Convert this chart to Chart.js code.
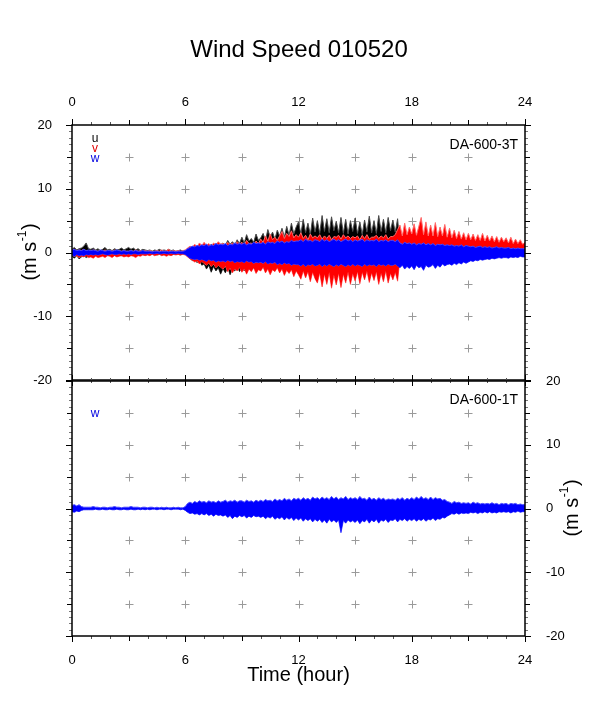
<!DOCTYPE html>
<html><head><meta charset="utf-8">
<script src="https://cdn.jsdelivr.net/npm/chart.js@4.4.1/dist/chart.umd.min.js"></script>
<style>
html,body{margin:0;padding:0;background:#fff;}
#wrap{position:relative;width:598px;height:708px;background:#fff;}
canvas{position:absolute;left:0;top:0;}
</style></head><body>
<div id="wrap"><canvas id="c1" width="598" height="708"></canvas><canvas id="c2" width="598" height="708"></canvas></div>
<script>
// ---------- data: upper / lower envelope of each record, read every 0.125 h (one line per hour) ----------
const TITLE = 'Wind Speed 010520';
const HOUR_STEP = 0.125;
const xTickLabels = [0, 6, 12, 18, 24];
const yTickLabels = [-20, -10, 0, 10, 20];

// DA-600-3T  u (black)
const uHi = [
 0.5,0.8,0.4,0.6,0.7,1.0,1.5,0.6,  0.5,0.7,0.4,0.6,0.3,0.5,0.8,0.4,
 0.5,0.3,0.6,0.4,0.5,0.7,0.4,0.6,  0.8,0.5,0.7,0.4,0.6,0.3,0.5,0.4,
 0.3,0.4,0.2,0.4,0.3,0.5,0.3,0.4,  0.3,0.5,0.3,0.4,0.2,0.3,0.4,0.2,
 0.3,0.6,0.5,0.9,0.6,1.0,0.7,1.1,  0.8,1.2,0.9,1.3,1.0,1.4,1.1,1.2,
 1.5,1.1,1.9,1.3,1.7,1.2,2.0,1.4,  2.4,1.5,2.8,1.8,2.2,1.6,2.9,1.9,
 2.3,3.0,1.9,3.6,2.4,3.2,2.1,3.5,  2.6,3.8,2.4,4.1,2.7,4.6,2.9,4.0,
 4.8,2.9,5.2,3.1,4.6,2.8,5.4,3.2,  5.0,3.0,5.8,3.3,5.3,3.1,5.6,3.4,
 4.9,3.1,5.5,3.0,5.2,2.9,5.0,3.3,  5.4,3.0,4.8,2.8,5.1,3.2,5.7,3.1,
 5.0,3.0,5.8,3.3,5.2,3.1,5.5,3.4,  5.1,3.2,5.3,1.2,1.0,0.8,1.1,0.9,
 1.0,0.8,1.1,0.9,1.0,0.7,0.9,1.1,  0.8,1.0,0.9,0.7,1.0,0.8,0.9,0.7,
 0.9,0.7,0.8,1.0,0.7,0.8,0.9,0.7,  0.8,0.6,0.9,0.7,0.8,0.6,0.7,0.8,
 0.6,0.8,0.7,0.6,0.8,0.7,0.6,0.7,  0.7,0.6,0.7,0.5,0.6,0.7,0.5,0.6,
 0.6];
const uLo = [
 -0.6,-0.9,-0.5,-1.0,-0.7,-0.5,-0.8,-0.6,  -0.5,-0.7,-0.4,-0.6,-0.5,-0.4,-0.6,-0.5,
 -0.4,-0.6,-0.3,-0.5,-0.4,-0.5,-0.3,-0.4,  -0.5,-0.3,-0.4,-0.5,-0.3,-0.4,-0.3,-0.4,
 -0.3,-0.4,-0.2,-0.3,-0.4,-0.3,-0.2,-0.3,  -0.3,-0.2,-0.4,-0.3,-0.2,-0.3,-0.4,-0.2,
 -0.3,-0.6,-0.9,-1.3,-1.0,-1.6,-1.2,-2.0,  -1.8,-2.6,-2.0,-3.1,-2.2,-2.9,-2.4,-3.4,
 -2.5,-3.2,-2.3,-3.5,-2.6,-2.9,-2.2,-3.0,  -2.4,-2.9,-2.0,-2.7,-2.2,-2.5,-1.9,-2.3,
 -1.8,-2.2,-1.6,-2.0,-1.5,-1.9,-1.4,-1.7,  -1.5,-1.3,-1.6,-1.4,-1.5,-1.3,-1.6,-1.4,
 -1.3,-1.5,-1.2,-1.4,-1.3,-1.5,-1.2,-1.4,  -1.4,-1.2,-1.5,-1.3,-1.4,-1.2,-1.5,-1.3,
 -1.3,-1.5,-1.2,-1.4,-1.3,-1.5,-1.2,-1.4,  -1.4,-1.2,-1.5,-1.3,-1.4,-1.2,-1.5,-1.3,
 -1.3,-1.5,-1.2,-1.4,-1.3,-1.5,-1.2,-1.4,  -1.3,-1.5,-1.2,-0.9,-0.8,-1.0,-0.9,-0.8,
 -0.9,-0.7,-1.0,-0.8,-0.9,-0.7,-0.8,-1.0,  -0.8,-0.9,-0.7,-0.8,-1.0,-0.7,-0.8,-0.9,
 -0.7,-0.8,-0.9,-0.7,-0.8,-0.6,-0.7,-0.8,  -0.6,-0.7,-0.8,-0.6,-0.7,-0.6,-0.8,-0.6,
 -0.7,-0.5,-0.6,-0.7,-0.5,-0.6,-0.7,-0.5,  -0.6,-0.5,-0.6,-0.5,-0.6,-0.4,-0.5,-0.6,
 -0.5];

// DA-600-3T  v (red)
const vHi = [
 0.3,0.5,0.2,0.4,0.3,0.5,0.2,0.3,  0.2,0.4,0.3,0.2,0.3,0.2,0.4,0.2,
 0.3,0.2,0.4,0.2,0.3,0.2,0.3,0.2,  0.2,0.3,0.2,0.4,0.2,0.3,0.2,0.3,
 0.2,0.3,0.2,0.2,0.3,0.2,0.4,0.2,  0.3,0.5,0.2,0.3,0.2,0.3,0.2,0.3,
 0.4,0.7,1.0,0.8,1.3,0.9,1.5,1.1,  1.6,1.1,1.4,1.0,1.5,1.2,1.7,1.3,
 1.4,1.1,1.6,1.2,1.5,1.0,1.7,1.3,  1.6,1.2,1.9,1.4,1.5,1.1,1.8,1.4,
 2.1,1.6,2.6,1.8,2.9,2.0,2.4,1.9,  2.6,3.3,2.2,3.0,2.5,3.4,2.3,2.8,
 2.4,3.1,2.2,2.7,2.0,2.9,2.3,2.6,  2.3,2.8,2.1,2.6,2.2,2.7,2.0,2.5,
 2.4,2.7,2.1,2.8,2.3,2.6,2.2,2.5,  2.3,2.6,2.0,2.7,2.2,2.8,2.1,2.4,
 2.4,2.7,2.2,2.6,2.3,2.8,2.1,2.5,  2.5,2.8,3.6,4.3,2.6,4.6,2.8,4.0,
 2.9,4.5,2.7,4.1,5.5,2.8,4.8,2.6,  4.3,2.6,4.7,2.5,4.0,2.6,4.4,2.4,
 3.8,2.3,3.5,2.2,3.3,2.1,3.1,2.0,  3.0,2.0,2.9,1.9,2.8,1.9,3.0,1.8,
 2.7,1.8,2.6,1.7,2.5,1.6,2.4,1.7,  2.3,1.5,2.4,1.4,2.1,1.4,2.0,1.3,
 1.6];
const vLo = [
 -0.4,-0.6,-0.5,-0.8,-0.6,-0.7,-0.5,-0.8,  -0.7,-0.9,-0.6,-0.8,-0.7,-0.6,-0.8,-0.5,
 -0.6,-0.8,-0.5,-0.7,-0.6,-0.5,-0.7,-0.6,  -0.7,-0.5,-0.6,-0.8,-0.5,-0.6,-0.4,-0.5,
 -0.4,-0.5,-0.3,-0.5,-0.4,-0.3,-0.5,-0.4,  -0.6,-0.4,-0.5,-0.3,-0.4,-0.3,-0.4,-0.3,
 -0.4,-0.7,-1.0,-1.2,-1.5,-1.3,-1.8,-1.4,  -1.7,-2.0,-1.6,-2.2,-1.8,-2.4,-2.0,-2.3,
 -2.6,-2.1,-3.0,-2.4,-3.2,-2.5,-2.9,-2.3,  -3.1,-2.5,-3.4,-2.6,-3.0,-2.4,-3.3,-2.7,
 -2.9,-2.3,-3.2,-2.6,-3.5,-2.7,-3.0,-2.4,  -3.2,-2.6,-3.6,-2.8,-3.3,-2.7,-3.8,-2.9,
 -3.5,-4.2,-2.9,-4.0,-3.0,-4.6,-3.1,-4.1,  -4.8,-3.2,-5.4,-3.4,-5.0,-3.1,-5.6,-3.5,
 -5.1,-3.3,-5.5,-3.4,-4.8,-3.0,-5.0,-3.3,  -4.5,-3.0,-4.9,-3.1,-4.3,-2.9,-4.7,-3.2,
 -4.4,-3.0,-5.0,-3.2,-4.6,-2.9,-4.8,-3.3,  -4.3,-3.1,-4.5,-0.9,-0.7,-0.6,-0.8,-0.6,
 -0.5,-0.6,-0.4,-0.6,-0.5,-0.4,-0.6,-0.5,  -0.4,-0.5,-0.4,-0.3,-0.5,-0.4,-0.3,-0.4,
 -0.4,-0.3,-0.4,-0.3,-0.3,-0.4,-0.3,-0.3,  -0.3,-0.2,-0.3,-0.3,-0.2,-0.3,-0.2,-0.3,
 -0.2,-0.3,-0.2,-0.2,-0.3,-0.2,-0.2,-0.3,  -0.2,-0.2,-0.3,-0.2,-0.2,-0.2,-0.3,-0.2,
 -0.2];

// DA-600-3T  w (blue)
const wHi = [
 0.4,0.5,0.3,0.4,0.3,0.5,0.3,0.4,  0.3,0.4,0.3,0.2,0.4,0.3,0.2,0.3,
 0.3,0.2,0.3,0.4,0.3,0.2,0.3,0.2,  0.2,0.3,0.2,0.3,0.2,0.2,0.3,0.2,
 0.2,0.2,0.1,0.2,0.2,0.1,0.2,0.2,  0.2,0.1,0.2,0.2,0.1,0.2,0.2,0.2,
 0.3,0.6,0.8,1.0,0.9,1.1,1.0,1.2,  1.1,1.3,1.0,1.2,1.1,1.4,1.2,1.3,
 1.2,1.4,1.1,1.3,1.2,1.5,1.3,1.4,  1.3,1.5,1.2,1.4,1.3,1.6,1.4,1.5,
 1.4,1.6,1.3,1.7,1.5,1.6,1.4,1.8,  1.6,1.8,1.5,1.7,1.6,1.9,1.7,1.8,
 1.8,2.0,1.7,2.1,1.8,1.9,1.7,2.0,  1.9,1.7,2.1,1.8,2.0,1.7,1.9,2.1,
 1.8,2.0,1.7,1.9,2.1,1.8,2.0,1.7,  2.0,1.8,1.9,2.1,1.7,2.0,1.8,1.9,
 1.8,2.1,1.7,1.9,1.8,2.0,1.7,1.9,  1.9,1.7,2.0,1.5,1.3,1.6,1.4,1.5,
 1.3,1.5,1.2,1.4,1.3,1.5,1.2,1.4,  1.2,1.4,1.1,1.3,1.2,1.3,1.1,1.2,
 1.1,1.2,1.0,1.1,1.0,1.2,0.9,1.1,  1.0,0.9,1.0,0.8,0.9,1.0,0.8,0.9,
 0.8,0.9,0.7,0.8,0.9,0.7,0.8,0.7,  0.7,0.8,0.6,0.7,0.6,0.7,0.6,0.6,
 0.6];
const wLo = [
 -0.4,-0.6,-0.3,-0.5,-0.4,-0.5,-0.3,-0.4,  -0.3,-0.4,-0.3,-0.4,-0.3,-0.2,-0.3,-0.4,
 -0.3,-0.2,-0.3,-0.3,-0.2,-0.3,-0.2,-0.3,  -0.2,-0.3,-0.2,-0.2,-0.3,-0.2,-0.2,-0.2,
 -0.2,-0.1,-0.2,-0.2,-0.1,-0.2,-0.2,-0.1,  -0.2,-0.2,-0.1,-0.2,-0.2,-0.1,-0.2,-0.2,
 -0.3,-0.6,-0.9,-1.0,-1.1,-1.0,-1.2,-1.1,  -1.2,-1.4,-1.1,-1.3,-1.2,-1.5,-1.3,-1.4,
 -1.3,-1.5,-1.2,-1.4,-1.3,-1.6,-1.4,-1.5,  -1.4,-1.6,-1.3,-1.5,-1.4,-1.7,-1.5,-1.6,
 -1.5,-1.7,-1.4,-1.8,-1.6,-1.7,-1.5,-1.9,  -1.7,-1.9,-1.6,-1.8,-1.7,-2.0,-1.8,-1.9,
 -1.9,-2.1,-1.8,-2.2,-1.9,-2.0,-1.8,-2.1,  -2.0,-1.8,-2.2,-1.9,-2.1,-1.8,-2.0,-2.2,
 -1.9,-2.1,-1.8,-2.0,-2.2,-1.9,-2.1,-1.8,  -2.1,-1.9,-2.0,-2.2,-1.8,-2.1,-1.9,-2.0,
 -1.9,-2.2,-1.8,-2.0,-1.9,-2.1,-1.8,-2.0,  -2.0,-1.8,-2.1,-2.4,-2.0,-2.6,-2.2,-2.5,
 -2.1,-2.7,-2.0,-2.4,-2.2,-2.8,-2.0,-2.3,  -2.2,-1.9,-2.5,-2.0,-2.3,-1.8,-2.1,-1.9,
 -1.8,-2.0,-1.7,-1.9,-1.6,-1.8,-1.5,-1.7,  -1.5,-1.3,-1.4,-1.2,-1.3,-1.1,-1.2,-1.1,
 -1.0,-1.1,-0.9,-1.0,-0.9,-0.8,-0.9,-0.8,  -0.8,-0.9,-0.7,-0.8,-0.7,-0.8,-0.6,-0.7,
 -0.7];

// DA-600-1T  w (blue)
const w1Hi = [
 0.5,0.6,0.4,0.6,0.3,0.2,0.2,0.2,  0.2,0.3,0.2,0.2,0.1,0.2,0.2,0.1,
 0.2,0.2,0.3,0.2,0.2,0.1,0.2,0.2,  0.2,0.3,0.2,0.2,0.2,0.1,0.2,0.2,
 0.1,0.2,0.2,0.1,0.2,0.1,0.2,0.1,  0.2,0.1,0.1,0.2,0.1,0.2,0.1,0.1,
 0.3,0.8,1.0,0.8,1.1,0.9,1.2,1.0,  1.1,0.9,1.2,1.0,1.1,0.9,1.2,1.0,
 1.1,1.3,1.0,1.2,1.1,1.3,1.0,1.2,  1.2,1.0,1.3,1.1,1.2,1.0,1.3,1.1,
 1.3,1.1,1.4,1.2,1.3,1.1,1.5,1.2,  1.4,1.2,1.6,1.3,1.5,1.2,1.6,1.4,
 1.6,1.3,1.7,1.4,1.6,1.3,1.8,1.5,  1.7,1.4,1.8,1.5,1.7,1.4,1.9,1.5,
 1.8,1.4,1.7,1.5,1.9,1.4,1.7,1.5,  1.7,1.4,1.9,1.5,1.6,1.3,1.8,1.4,
 1.6,1.3,1.7,1.4,1.6,1.3,1.5,1.4,  1.5,1.3,1.6,1.4,1.7,1.3,1.6,1.4,
 1.7,1.4,1.8,1.5,1.9,1.5,1.7,1.4,  1.8,1.4,1.7,1.5,1.6,1.3,1.4,1.1,
 1.0,0.8,1.1,0.9,1.0,0.8,0.9,0.8,  0.9,0.7,1.0,0.8,0.9,0.7,0.8,0.7,
 0.8,0.7,0.9,0.7,0.8,0.6,0.8,0.7,  0.8,0.6,0.8,0.7,0.8,0.6,0.7,0.6,
 0.6];
const w1Lo = [
 -0.5,-0.6,-0.4,-0.5,-0.3,-0.2,-0.2,-0.2,  -0.2,-0.2,-0.1,-0.2,-0.2,-0.1,-0.2,-0.2,
 -0.1,-0.2,-0.2,-0.1,-0.2,-0.2,-0.1,-0.2,  -0.2,-0.1,-0.2,-0.2,-0.1,-0.2,-0.1,-0.2,
 -0.1,-0.2,-0.1,-0.1,-0.2,-0.1,-0.1,-0.2,  -0.1,-0.1,-0.2,-0.1,-0.1,-0.1,-0.2,-0.1,
 -0.3,-0.6,-0.8,-0.7,-0.9,-0.8,-1.0,-0.8,  -1.0,-0.8,-1.1,-0.9,-1.2,-0.9,-1.1,-1.0,
 -1.2,-1.0,-1.4,-1.1,-1.6,-1.2,-1.4,-1.1,  -1.3,-1.1,-1.5,-1.2,-1.4,-1.1,-1.3,-1.2,
 -1.4,-1.2,-1.6,-1.3,-1.5,-1.2,-1.7,-1.4,  -1.6,-1.3,-1.8,-1.4,-1.7,-1.4,-1.9,-1.5,
 -1.8,-1.5,-2.0,-1.6,-1.9,-1.6,-2.1,-1.7,  -2.0,-1.7,-2.2,-1.8,-2.3,-1.7,-2.1,-1.8,
 -2.2,-1.8,-3.8,-1.9,-2.3,-1.8,-2.1,-1.9,  -2.2,-1.8,-2.4,-1.9,-2.1,-1.7,-2.3,-1.8,
 -2.1,-1.7,-2.3,-1.8,-2.0,-1.7,-2.2,-1.8,  -1.9,-1.6,-2.1,-1.7,-1.9,-1.6,-2.0,-1.7,
 -1.9,-1.6,-2.0,-1.7,-1.9,-1.6,-2.0,-1.7,  -1.8,-1.5,-1.9,-1.6,-1.7,-1.4,-1.5,-1.2,
 -1.0,-0.8,-0.9,-0.7,-0.9,-0.7,-0.8,-0.7,  -0.8,-0.6,-0.7,-0.6,-0.8,-0.6,-0.7,-0.5,
 -0.7,-0.5,-0.7,-0.6,-0.7,-0.5,-0.6,-0.5,  -0.6,-0.5,-0.7,-0.5,-0.6,-0.4,-0.6,-0.5,
 -0.5];

// ---------- helpers ----------
const FONT = '"Liberation Sans", Arial, Helvetica, sans-serif';
Chart.defaults.font.family = FONT;
Chart.defaults.color = '#000';
const hours = uHi.map((_, i) => i * HOUR_STEP);
const pts = arr => arr.map((v, i) => ({x: hours[i], y: v}));

function band(hi, lo, color, edge, order, yAxisID) {
  return [
    {data: pts(hi), fill: '+1', backgroundColor: color, borderColor: edge, borderWidth: 1,
     pointRadius: 0, order, yAxisID, tension: 0},
    {data: pts(lo), fill: false, borderColor: edge, borderWidth: 1,
     pointRadius: 0, order, yAxisID, tension: 0}
  ];
}

function yTitle(ctx, cx, cy) {
  ctx.save();
  ctx.translate(cx, cy); ctx.rotate(-Math.PI / 2);
  const big = '20px ' + FONT, small = '12px ' + FONT;
  ctx.font = big; const w1 = ctx.measureText('(m s').width; const w3 = ctx.measureText(')').width;
  ctx.font = small; const w2 = ctx.measureText('-1').width;
  let x = -(w1 + w2 + w3 + 1) / 2;
  ctx.textBaseline = 'middle'; ctx.textAlign = 'left'; ctx.fillStyle = '#000';
  ctx.font = big; ctx.fillText('(m s', x, 0); x += w1 + 0.5;
  ctx.font = small; ctx.fillText('-1', x, -7); x += w2 + 0.5;
  ctx.font = big; ctx.fillText(')', x, 0);
  ctx.restore();
}

function decor(cfg) {
  return {
    id: 'decor',
    beforeDatasetsDraw(chart) {
      const {ctx} = chart, xs = chart.scales.x, ys = chart.scales[cfg.yId];
      ctx.save();
      ctx.strokeStyle = '#9a9a9a'; ctx.lineWidth = 1;
      for (let h = 3; h < 24; h += 3) {
        for (let v = -15; v <= 15; v += 5) {
          if (v === 0) continue;
          const px = Math.round(xs.getPixelForValue(h)) + 0.5, py = Math.round(ys.getPixelForValue(v)) + 0.5;
          ctx.beginPath();
          ctx.moveTo(px - 4, py); ctx.lineTo(px + 4, py);
          ctx.moveTo(px, py - 4); ctx.lineTo(px, py + 4);
          ctx.stroke();
        }
      }
      ctx.restore();
    },
    afterDraw(chart) {
      const {ctx, chartArea: a} = chart, xs = chart.scales.x, ys = chart.scales[cfg.yId];
      ctx.save();
      for (let h = 0; h <= 24; h++) {
        const len = h % 6 === 0 ? 6 : (h % 3 === 0 ? 5 : 3);
        const px = Math.round(xs.getPixelForValue(h)) + 0.5;
        ctx.strokeStyle = h % 3 === 0 ? '#000' : '#555'; ctx.lineWidth = 1;
        ctx.beginPath();
        ctx.moveTo(px, a.top); ctx.lineTo(px, a.top - len);
        ctx.moveTo(px, a.bottom); ctx.lineTo(px, a.bottom + len);
        ctx.stroke();
      }
      for (let v = -20; v <= 20; v++) {
        const len = v % 10 === 0 ? 6 : (v % 5 === 0 ? 5 : 3);
        const py = Math.round(ys.getPixelForValue(v)) + 0.5;
        ctx.strokeStyle = v % 5 === 0 ? '#000' : '#777'; ctx.lineWidth = 1;
        ctx.beginPath();
        ctx.moveTo(a.left, py); ctx.lineTo(a.left - len, py);
        ctx.moveTo(a.right, py); ctx.lineTo(a.right + len, py);
        ctx.stroke();
      }
      ctx.strokeStyle = '#000'; ctx.lineWidth = 1.5;
      ctx.strokeRect(a.left, a.top, a.right - a.left, a.bottom - a.top);
      ctx.textAlign = 'center'; ctx.textBaseline = 'middle';
      ctx.font = '12px ' + FONT;
      cfg.legend.forEach(([t, c, y]) => { ctx.fillStyle = c; ctx.fillText(t, 95, y); });
      ctx.fillStyle = '#000'; ctx.textAlign = 'right'; ctx.font = '14px ' + FONT;
      ctx.fillText(cfg.station, 518, cfg.stationY);
      yTitle(ctx, cfg.titleX, cfg.titleY);
      ctx.restore();
    }
  };
}

const tickFont = {size: 13};
const common = {
  responsive: false, animation: false,
  plugins: {legend: {display: false}, tooltip: {enabled: false}}
};

// ---------- top panel ----------
new Chart(document.getElementById('c1'), {
  type: 'line',
  data: {datasets: [
    ...band(uHi, uLo, '#000000', '#4a4a4a', 3, 'y'),
    ...band(vHi, vLo, '#ff0000', '#ff6a6a', 2, 'y'),
    ...band(wHi, wLo, '#0000ff', '#4646ff', 1, 'y')
  ]},
  options: {
    ...common,
    layout: {padding: {top: 0, left: 0, right: 0, bottom: 328}},
    plugins: {...common.plugins,
      title: {display: true, text: TITLE, color: '#000', font: {size: 24, weight: 'normal'}, padding: {top: 36, bottom: 0}}},
    scales: {
      x: {type: 'linear', position: 'top', min: 0, max: 24,
          afterBuildTicks: s => { s.ticks = xTickLabels.map(v => ({value: v})); },
          ticks: {font: tickFont, padding: 7, maxRotation: 0, autoSkip: false},
          grid: {display: false}, border: {display: false},
          afterFit: s => { s.height = 60.2; }},
      y: {type: 'linear', position: 'left', min: -20, max: 20,
          afterBuildTicks: s => { s.ticks = yTickLabels.map(v => ({value: v})); },
          ticks: {font: tickFont, padding: 12, autoSkip: false},
          grid: {display: false}, border: {display: false},
          afterFit: s => { s.width = 72; }},
      yR: {type: 'linear', position: 'right', min: -20, max: 20,
          ticks: {display: false}, grid: {display: false}, border: {display: false},
          afterFit: s => { s.width = 73; }}
    }
  },
  plugins: [decor({yId: 'y', legend: [['u', '#000', 139], ['v', '#e00000', 149], ['w', '#0000e0', 159]],
                   station: 'DA-600-3T', stationY: 145, titleX: 30, titleY: 252})]
});

// ---------- bottom panel ----------
new Chart(document.getElementById('c2'), {
  type: 'line',
  data: {datasets: [...band(w1Hi, w1Lo, '#0000ff', '#4646ff', 1, 'y')]},
  options: {
    ...common,
    layout: {padding: {top: 381, left: 0, right: 0, bottom: 0}},
    scales: {
      x: {type: 'linear', position: 'bottom', min: 0, max: 24,
          afterBuildTicks: s => { s.ticks = xTickLabels.map(v => ({value: v})); },
          ticks: {font: tickFont, padding: 9, maxRotation: 0, autoSkip: false},
          grid: {display: false}, border: {display: false},
          title: {display: true, text: 'Time (hour)', color: '#000', font: {size: 20}, padding: {top: 0, bottom: 21}},
          afterFit: s => { s.height = 72; }},
      y: {type: 'linear', position: 'right', min: -20, max: 20,
          afterBuildTicks: s => { s.ticks = yTickLabels.map(v => ({value: v})); },
          ticks: {font: tickFont, padding: 13, autoSkip: false},
          grid: {display: false}, border: {display: false},
          afterFit: s => { s.width = 73; }},
      yL: {type: 'linear', position: 'left', min: -20, max: 20,
          ticks: {display: false}, grid: {display: false}, border: {display: false},
          afterFit: s => { s.width = 72; }}
    }
  },
  plugins: [decor({yId: 'y', legend: [['w', '#0000e0', 414]],
                   station: 'DA-600-1T', stationY: 400, titleX: 572, titleY: 508})]
});
</script>
</body></html>
